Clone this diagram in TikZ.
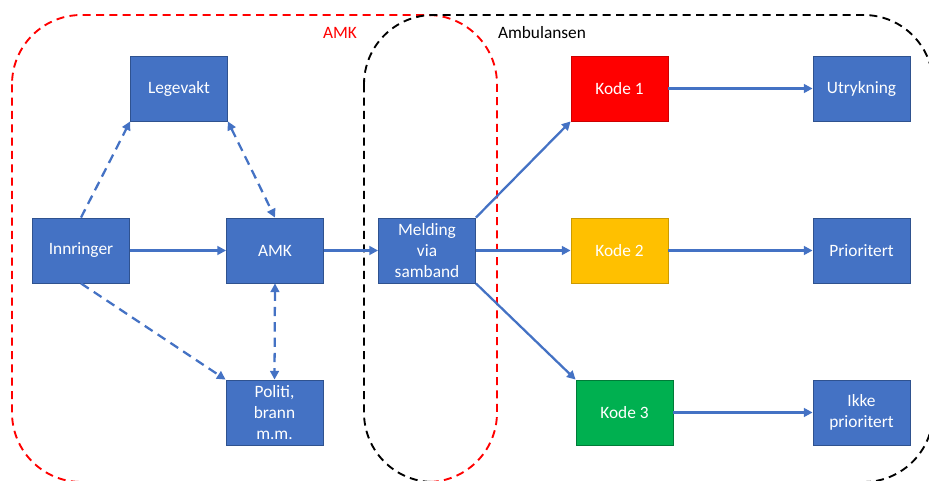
\documentclass[tikz,border=0pt]{standalone}
\usepackage{fontspec}
\setmainfont{Carlito}
\usetikzlibrary{arrows.meta}
\definecolor{boxblue}{HTML}{4472C4}
\definecolor{boxedge}{HTML}{2F528F}
\definecolor{kodered}{HTML}{FF0000}
\definecolor{kodeyellow}{HTML}{FFC000}
\definecolor{kodegreen}{HTML}{00B050}

\begin{document}
\begin{tikzpicture}[x=0.75pt,y=-0.75pt,
  box/.style={draw=boxedge,line width=0.6pt,fill=boxblue,text=white,
    minimum width=72.75pt,minimum height=48.75pt,inner sep=0pt,align=center,
    font=\fontsize{13}{16}\selectfont},
  flow/.style={boxblue,line width=1.7pt,-{Triangle[length=6.5pt,width=6.5pt]}},
  link/.style={flow,dash pattern=on 7pt off 4.5pt},
  twoway/.style={link,{Triangle[length=6.5pt,width=6.5pt]}-{Triangle[length=6.5pt,width=6.5pt]}},
  region/.style={line width=1.4pt,dash pattern=on 6pt off 4pt,rounded corners=52pt},
  regionlabel/.style={font=\fontsize{13}{16}\selectfont}]
  \clip (0,0) rectangle (929,481);

  % Dashed areas
  \draw[region,red] (12,15) rectangle (497,482);
  \draw[region,black] (364,15) rectangle (933,482);
  \node[regionlabel,red] (amklabel) at (340,33) {AMK};
  \node[regionlabel] (amblabel) at (542,33) {Ambulansen};

  % Left: call handling
  \node[box] (legevakt) at (179,88.5) {Legevakt};
  \node[box] (innringer) at (81,250.5) {Innringer};
  \node[box] (amk) at (275,250.5) {AMK};
  \node[box] (politi) at (274.5,412.5) {Politi,\\brann\\m.m.};
  \node[box] (melding) at (427,250.5) {Melding\\via\\samband};

  % Right: response codes
  \node[box,fill=kodered,draw=kodered!80!black] (kode1) at (619.5,88.5) {Kode 1};
  \node[box,fill=kodeyellow,draw=kodeyellow!80!black] (kode2) at (619.5,250.5) {Kode 2};
  \node[box,fill=kodegreen,draw=kodegreen!70!black] (kode3) at (624.5,412.5) {Kode 3};
  \node[box] (utrykning) at (861.5,88.5) {Utrykning};
  \node[box] (prioritert) at (861.5,250.5) {Prioritert};
  \node[box] (ikke) at (861.5,412.5) {Ikke\\prioritert};

  % Connections
  \draw[flow] (innringer) -- (amk);
  \draw[flow] (amk) -- (melding);
  \draw[link] (innringer.north) -- (legevakt.south west);
  \draw[twoway] (legevakt.south east) -- (amk.north);
  \draw[link] (innringer.south) -- (politi.north west);
  \draw[twoway] (amk.south) -- (politi.north);
  \draw[flow] (melding.north east) -- (kode1.south west);
  \draw[flow] (melding) -- (kode2);
  \draw[flow] (melding.south east) -- (kode3.north west);
  \draw[flow] (kode1) -- (utrykning);
  \draw[flow] (kode2) -- (prioritert);
  \draw[flow] (kode3) -- (ikke);
\end{tikzpicture}
\end{document}
